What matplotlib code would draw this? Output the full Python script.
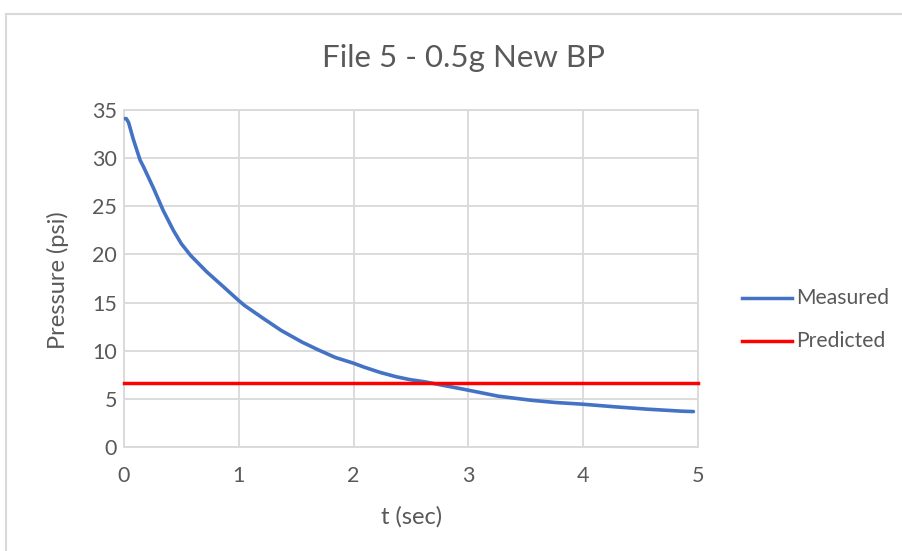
import matplotlib
matplotlib.use("Agg")
import matplotlib.pyplot as plt
from matplotlib.patches import Rectangle
from matplotlib.lines import Line2D

# Measured pressure decay (psi) over time (s)
t_measured = [0.00, 0.02, 0.04, 0.08, 0.14, 0.17, 0.26, 0.34, 0.43, 0.50,
              0.58, 0.72, 0.87, 1.00, 1.05, 1.22, 1.37, 1.55, 1.69, 1.84,
              2.00, 2.09, 2.23, 2.37, 2.49, 2.62, 2.97, 3.26, 3.55, 3.76,
              3.99, 4.28, 4.57, 4.86, 4.96]
p_measured = [34.1, 34.1, 33.7, 32.0, 29.8, 29.1, 26.8, 24.6, 22.5, 21.1,
              19.9, 18.2, 16.6, 15.2, 14.7, 13.3, 12.1, 10.9, 10.1, 9.3,
              8.7, 8.3, 7.75, 7.3, 7.0, 6.77, 5.97, 5.28, 4.85, 4.62,
              4.45, 4.17, 3.92, 3.72, 3.68]

# Predicted pressure (constant)
t_predicted = [0.0, 5.0]
p_predicted = [6.6, 6.6]

x_ticks = [0, 1, 2, 3, 4, 5]
y_ticks = [0, 5, 10, 15, 20, 25, 30, 35]

title = "File 5 - 0.5g New BP"
x_label = "t (sec)"
y_label = "Pressure (psi)"

FONT = ["Lato", "DejaVu Sans"]
TEXT = "#595959"
GRID = "#D9D9D9"
BLUE = "#4472C4"
RED = "#FF0000"

W, H = 902, 551
fig = plt.figure(figsize=(W / 100, H / 100), dpi=100)
fig.patch.set_facecolor("white")

# chart-area border
fig.patches.append(Rectangle((6 / W, -0.1), 1.2, (H - 14) / H + 0.1,
                             transform=fig.transFigure, fill=False,
                             edgecolor=GRID, linewidth=1.5, zorder=0))

ax = fig.add_axes([124 / W, (H - 447) / H, (698 - 124) / W, (447 - 110) / H])
ax.set_xlim(0, 5)
ax.set_ylim(0, 35)
ax.set_xticks(x_ticks)
ax.set_yticks(y_ticks)
ax.grid(True, color=GRID, linewidth=1.3)
ax.set_axisbelow(True)
for s in ax.spines.values():
    s.set_color(GRID)
    s.set_linewidth(1.3)
ax.tick_params(length=0, labelsize=15.5, labelcolor=TEXT)
ax.tick_params(axis="x", pad=14)
ax.tick_params(axis="y", pad=5)
for lab in ax.get_xticklabels() + ax.get_yticklabels():
    lab.set_family(FONT)

ax.plot(t_measured, p_measured, color=BLUE, linewidth=2.6, solid_capstyle="round", zorder=3)
ax.plot(t_predicted, p_predicted, color=RED, linewidth=2.5, zorder=3, clip_on=False)

fig.text(464 / W, 1 - 58 / H, title, ha="center", va="center",
         fontsize=22.5, color=TEXT, family=FONT)
fig.text(412 / W, 1 - 517 / H, x_label, ha="center", va="center",
         fontsize=17, color=TEXT, family=FONT)
fig.text(58 / W, 1 - 280 / H, y_label, ha="center", va="center",
         rotation=90, fontsize=17, color=TEXT, family=FONT)

# legend
for label, color, y in (("Measured", BLUE, 298), ("Predicted", RED, 341)):
    fig.lines.append(Line2D([742 / W, 792 / W], [1 - y / H, 1 - y / H],
                            transform=fig.transFigure, color=color, linewidth=2.5))
    fig.text(796 / W, 1 - y / H, label, ha="left", va="center",
             fontsize=15.2, color=TEXT, family=FONT)

fig.savefig("out.png", dpi=100)
